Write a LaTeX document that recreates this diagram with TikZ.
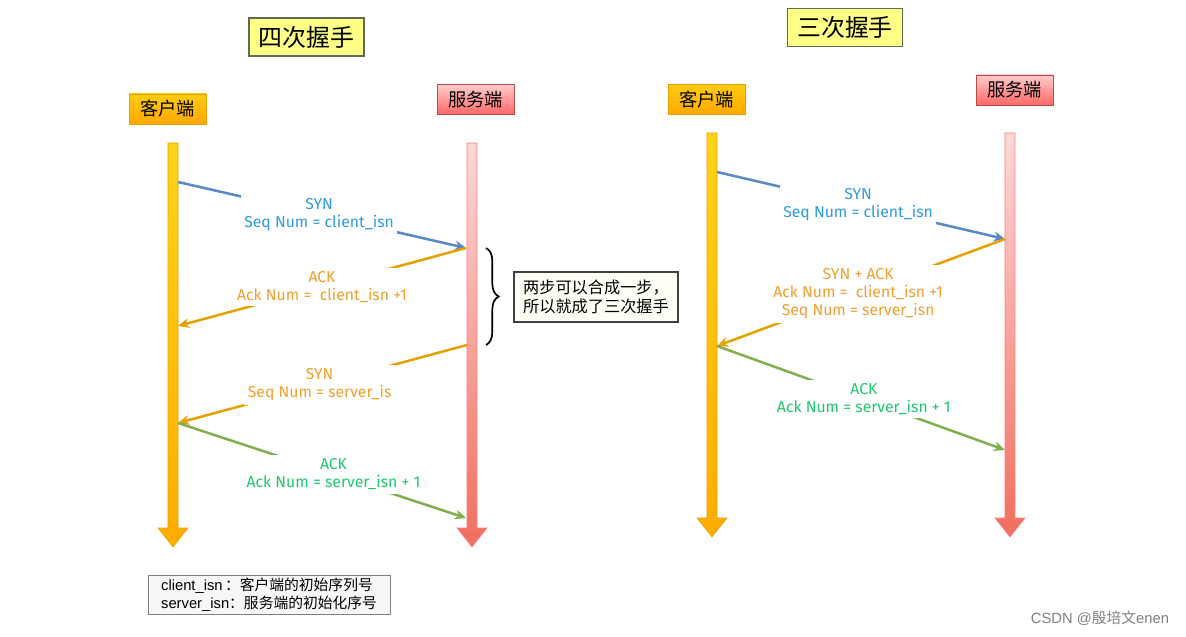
\documentclass[tikz,border=0pt]{standalone}
\usepackage{fontspec}
\setmainfont{Fira Sans}
\newfontfamily\cjk{Noto Sans CJK SC}
\newfontfamily\arial{Liberation Sans}
\usetikzlibrary{arrows.meta,positioning,decorations.pathreplacing}

\definecolor{synblue}{HTML}{5A8AC6}
\definecolor{synbluetext}{HTML}{2F9AE0}
\definecolor{ackorange}{HTML}{E3A200}
\definecolor{ackorangetext}{HTML}{F0A030}
\definecolor{ackgreen}{HTML}{80B050}
\definecolor{ackgreentext}{HTML}{1EC86E}
\definecolor{titleyellow}{HTML}{FFFF88}
\definecolor{titleedge}{HTML}{5F6B55}
\definecolor{clienttop}{HTML}{FFCC10}
\definecolor{clientbottom}{HTML}{FFA800}
\definecolor{clientedge}{HTML}{E8A200}
\definecolor{bartop}{HTML}{FFD418}
\definecolor{barbottom}{HTML}{FFAC00}
\definecolor{serverbartop}{HTML}{FDD8D8}
\definecolor{serverbarbottom}{HTML}{F06E5E}

\tikzset{
  titlebox/.style={draw=titleedge, fill=titleyellow, line width=0.8pt,
    inner sep=0pt, minimum width=115\unitlen, minimum height=38\unitlen,
    font=\cjk\fontsize{17}{19}\selectfont},
  clienthead/.style={draw=clientedge, top color=clienttop, bottom color=clientbottom,
    inner sep=0pt, minimum width=77\unitlen, minimum height=30\unitlen,
    font=\cjk\fontsize{13}{15}\selectfont},
  serverhead/.style={draw=red!60!black!70, top color=red!20, bottom color=red!60!white,
    inner sep=0pt, minimum width=77\unitlen, minimum height=30\unitlen,
    font=\cjk\fontsize{13}{15}\selectfont},
  msg/.style={line width=1.8pt, -{Stealth[length=8pt,width=7pt]}},
  msglabel/.style={fill=white, inner sep=2.5pt, align=center,
    font=\fontsize{11.2}{13}\selectfont},
  clientbar/.style={top color=bartop, bottom color=barbottom, draw=clientedge, line width=0.4pt},
  serverbar/.style={top color=serverbartop, bottom color=serverbarbottom, draw=red!50!white, line width=0.4pt},
}
\newlength{\unitlen}
\setlength{\unitlen}{0.025cm}

% fat vertical arrow: centre x, top y, bottom of shaft y, tip y
\newcommand{\lifeline}[5]{%
  \shade[#5] (#1-5,#2) -- (#1+5,#2) -- (#1+5,#3) -- (#1+15,#3) -- (#1,#4)
    -- (#1-15,#3) -- (#1-5,#3) -- cycle;}

\begin{document}
\begin{tikzpicture}[x=0.025cm,y=-0.025cm]
  \useasboundingbox (0,0) rectangle (1186,637);

  % titles
  \node[titlebox] (four) at (306.5,37) {四次握手};
  \node[titlebox] (three) at (845,27.5) {三次握手};

  % ---------- four-way handshake ----------
  \node[clienthead] (clientA) at (167.5,109) {客户端};
  \node[serverhead] (serverA) at (475.5,99.5) {服务端};
  \lifeline{173}{143}{528}{547}{clientbar}
  \lifeline{472}{143}{528}{547}{serverbar}

  \coordinate (cA1) at (178,182);
  \coordinate (sA1) at (466,248);
  \coordinate (cA2) at (178,326);
  \coordinate (sA2) at (467,345);
  \coordinate (cA3) at (178,423);
  \coordinate (sA3) at (466,518);

  \draw[msg, synblue] (cA1) -- node[msglabel, text=synbluetext, pos=0.49] (mA1) {SYN\\Seq Num = client\_isn} (sA1);
  \draw[msg, ackorange] (sA1) -- node[msglabel, text=ackorangetext, pos=0.5] (mA2) {ACK\\Ack Num = \ client\_isn +1} (cA2);
  \draw[msg, ackorange] (sA2) -- node[msglabel, text=ackorangetext, pos=0.51] (mA3) {SYN\\Seq Num = server\_is} (cA3);
  \draw[msg, ackgreen] (cA3) -- node[msglabel, text=ackgreentext, pos=0.54] (mA4) {ACK\\Ack Num = server\_isn + 1} (sA3);

  % merge hint
  \draw[line width=1.2pt, decorate, decoration={brace, amplitude=9pt}] (486,248) -- (486,345);
  \node[draw=black!75, fill=yellow!4, line width=0.8pt, inner sep=0pt,
    minimum width=164\unitlen, minimum height=50\unitlen, align=left,
    font=\cjk\fontsize{11.5}{14}\selectfont] (merge) at (596,297)
    {两步可以合成一步，\\所以就成了三次握手};

  % ---------- three-way handshake ----------
  \node[clienthead] (clientB) at (706.5,99.5) {客户端};
  \node[serverhead] (serverB) at (1014.5,90) {服务端};
  \lifeline{712}{133}{518}{537}{clientbar}
  \lifeline{1010}{133}{518}{537}{serverbar}

  \coordinate (cB1) at (717,172);
  \coordinate (sB1) at (1005,239);
  \coordinate (cB2) at (717,346);
  \coordinate (sB3) at (1005,450);

  \draw[msg, synblue] (cB1) -- node[msglabel, text=synbluetext, pos=0.49] (mB1) {SYN\\Seq Num = client\_isn} (sB1);
  \draw[msg, ackorange] (sB1) -- node[msglabel, text=ackorangetext, pos=0.51] (mB2) {SYN + ACK\\Ack Num = \ client\_isn +1\\Seq Num = server\_isn} (cB2);
  \draw[msg, ackgreen] (cB2) -- node[msglabel, text=ackgreentext, pos=0.51] (mB3) {ACK\\Ack Num = server\_isn + 1} (sB3);

  % legend
  \node[draw=black!50, fill=black!3, line width=0.6pt, inner sep=0pt,
    minimum width=242\unitlen, minimum height=39\unitlen, align=left,
    font=\fontsize{10.5}{13}\selectfont] (legend) at (269,594.5)
    {{\arial client\_isn\,}{\cjk ：客户端的初始序列号}\\{\arial server\_isn}{\cjk ：服务端的初始化序号}};

  \node[text=black!50, font=\fontsize{10.5}{12}\selectfont, anchor=east] (mark) at (1174,618)
    {\arial CSDN @{\cjk 殷培文}enen};
\end{tikzpicture}
\end{document}
